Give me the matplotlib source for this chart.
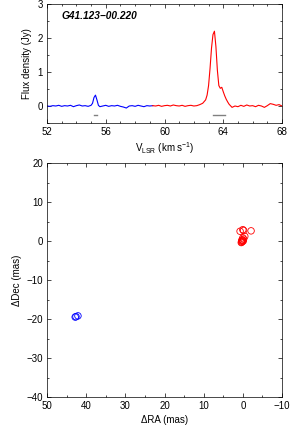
import matplotlib
matplotlib.use("Agg")
import matplotlib.pyplot as plt
from matplotlib.ticker import MultipleLocator

plt.rcParams['font.family'] = ['Liberation Sans', 'DejaVu Sans']

# Spectrum (blue-shifted part)
vel_blue = [52.0, 52.2, 52.4, 52.6, 52.8, 53.0, 53.2, 53.4, 53.6, 53.8, 54.0, 54.2, 54.4,
            54.6, 54.8, 55.0, 55.1, 55.2, 55.3, 55.4, 55.5, 55.6, 55.8, 56.0, 56.2, 56.4,
            56.6, 56.8, 57.0, 57.2, 57.4, 57.6, 57.8, 58.0, 58.2, 58.4, 58.6, 58.8, 59.0, 59.2]
flux_blue = [0.00, -0.01, 0.01, 0.00, 0.02, -0.01, 0.01, 0.00, 0.02, -0.02, 0.01, 0.03, 0.00,
             0.01, -0.01, 0.02, 0.08, 0.25, 0.32, 0.18, 0.02, -0.02, 0.00, 0.02, -0.01, 0.01,
             0.00, 0.02, -0.01, -0.03, -0.06, 0.00, 0.01, -0.01, 0.02, 0.00, -0.02, 0.01, 0.00, 0.01]

# Spectrum (red-shifted part)
vel_red = [59.2, 59.4, 59.6, 59.8, 60.0, 60.2, 60.4, 60.6, 60.8, 61.0, 61.2, 61.4, 61.6,
           61.8, 62.0, 62.2, 62.4, 62.6, 62.8, 62.9, 63.0, 63.1, 63.2, 63.3, 63.4, 63.5,
           63.6, 63.7, 63.8, 63.9, 64.0, 64.1, 64.2, 64.3, 64.4, 64.6, 64.8, 65.0, 65.2,
           65.4, 65.6, 65.8, 66.0, 66.2, 66.4, 66.6, 66.8, 67.0, 67.2, 67.4, 67.6, 67.8, 68.0]
flux_red = [0.01, 0.00, 0.02, -0.01, 0.01, 0.02, 0.00, 0.03, 0.01, 0.00, 0.02, -0.01, 0.01,
            0.02, 0.00, 0.01, 0.04, 0.08, 0.18, 0.32, 0.60, 1.10, 1.70, 2.10, 2.20, 1.75,
            1.05, 0.60, 0.52, 0.55, 0.42, 0.30, 0.20, 0.12, 0.05, -0.04, 0.00, -0.02, 0.02,
            -0.01, 0.03, 0.00, 0.01, -0.02, 0.02, 0.00, -0.04, 0.01, 0.07, 0.05, 0.02, 0.04, 0.00]

# Velocity ranges of the spot groups (grey bars)
bar_blue = [55.2, 55.4]
bar_red = [63.3, 64.1]
bar_level = -0.27

# Maser spot positions
ra_red = [0.3, 0.1, 0.0, -0.2, 0.0, 0.2, -0.5, 0.7, 0.0, -0.2, -2.1, 0.3, 0.4, -0.1]
dec_red = [-0.3, -0.1, 0.2, 0.5, 0.8, 0.3, 1.2, 2.5, 2.9, 2.7, 2.6, 0.0, -0.4, 0.0]
ra_blue = [42.6, 42.1, 42.8]
dec_blue = [-19.4, -19.2, -19.5]

fig = plt.figure(figsize=(2.91, 4.28), dpi=100)
W, H = 291, 428
ax1 = fig.add_axes([47 / W, 1 - 123 / H, 235 / W, 119 / H])
ax2 = fig.add_axes([47 / W, 1 - 397 / H, 235 / W, 234 / H])

fs = 7
ax1.plot(vel_blue, flux_blue, color='#0000ff', lw=0.8)
ax1.plot(vel_red, flux_red, color='#ff0000', lw=0.8)
ax1.plot(bar_blue, [bar_level] * 2, color='#808080', lw=1.0)
ax1.plot(bar_red, [bar_level] * 2, color='#808080', lw=1.0)
ax1.set_xlim(52, 68)
ax1.set_ylim(-0.5, 3)
ax1.xaxis.set_major_locator(MultipleLocator(4))
ax1.xaxis.set_minor_locator(MultipleLocator(1))
ax1.yaxis.set_major_locator(MultipleLocator(1))
ax1.yaxis.set_minor_locator(MultipleLocator(0.5))
ax1.set_xlabel(r'V$_{\mathregular{LSR}}$ (km s$^{\mathregular{-1}}$)', fontsize=fs, labelpad=2)
ax1.set_ylabel('Flux density (Jy)', fontsize=fs, labelpad=4)
ax1.text(0.06, 0.87, 'G41.123\u221200.220', transform=ax1.transAxes, fontsize=7.3,
         fontweight='bold', fontstyle='italic')

ax2.scatter(ra_red, dec_red, s=22, facecolors='none', edgecolors='#ff0000', linewidths=0.6)
ax2.scatter(ra_blue, dec_blue, s=22, facecolors='none', edgecolors='#0000ff', linewidths=0.6)
ax2.set_xlim(50, -10)
ax2.set_ylim(-40, 20)
ax2.xaxis.set_major_locator(MultipleLocator(10))
ax2.xaxis.set_minor_locator(MultipleLocator(5))
ax2.yaxis.set_major_locator(MultipleLocator(10))
ax2.yaxis.set_minor_locator(MultipleLocator(5))
ax2.set_xlabel('\u0394RA (mas)', fontsize=fs, labelpad=3)
ax2.set_ylabel('\u0394Dec (mas)', fontsize=fs, labelpad=3)

for ax in (ax1, ax2):
    ax.tick_params(which='both', direction='in', top=True, right=True, labelsize=fs, width=0.5)
    ax.tick_params(which='major', length=3, pad=3)
    ax.tick_params(which='minor', length=1.5)
    for s in ax.spines.values():
        s.set_linewidth(0.5)

fig.savefig('out.png', dpi=100)
